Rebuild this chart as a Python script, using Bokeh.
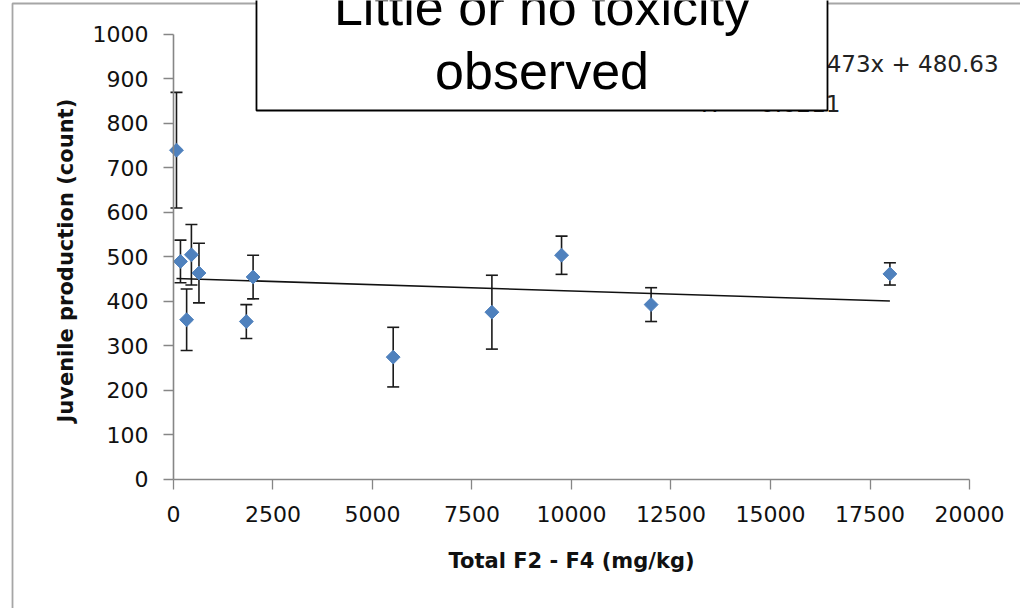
from bokeh.plotting import figure
from bokeh.models import (Range1d, FixedTicker, Whisker, ColumnDataSource,
                          BoxAnnotation, Label, TeeHead)
from bokeh.embed import file_html
from bokeh.resources import INLINE

# Total F2-F4 concentration (mg/kg) and juvenile counts (mean, +/- error)
conc = [75, 175, 330, 450, 640, 1830, 2000, 5520, 8000, 9750, 12000, 18000]
juveniles = [740, 490, 359, 505, 464, 355, 455, 275, 376, 504, 393, 462]
err = [130, 48, 69, 68, 67, 38, 49, 67, 83, 43, 38, 25]

x_ticks = [0, 2500, 5000, 7500, 10000, 12500, 15000, 17500, 20000]
y_ticks = [0, 100, 200, 300, 400, 500, 600, 700, 800, 900, 1000]

# linear trend drawn across the sampled concentration range
trend_slope = -0.00283
trend_intercept = 452.0
trend_x = [min(conc), max(conc)]
trend_y = [trend_intercept + trend_slope * v for v in trend_x]

eq_text = "y = -0.00473x + 480.63"
r2_text = "R\u00b2 = 0.0211"
note_lines = ["Little or no toxicity", "observed"]

src = ColumnDataSource(dict(
    x=conc, y=juveniles,
    lo=[a - b for a, b in zip(juveniles, err)],
    hi=[a + b for a, b in zip(juveniles, err)],
))

AXIS_GREY = "#868686"
TICK_FONT = "DejaVu Sans"

# The plotting frame fills the whole canvas; the axes are pinned at x=0 / y=0
# so the frame, note box and equation text can sit outside the axis box.
p = figure(width=1020, height=608, output_backend="svg", toolbar_location=None,
           x_range=Range1d(-4346.7, 21281.4), y_range=Range1d(-289.9, 1076.4),
           min_border=0, min_border_left=0, min_border_right=0,
           min_border_top=0, min_border_bottom=0)
p.title.visible = False
p.outline_line_color = None
p.grid.visible = False
p.background_fill_color = "white"
p.border_fill_color = "white"

for ax in (p.xaxis[0], p.yaxis[0]):
    ax.fixed_location = 0
    ax.axis_line_color = AXIS_GREY
    ax.axis_line_width = 1.6
    ax.major_tick_line_color = AXIS_GREY
    ax.major_tick_line_width = 1.3
    ax.major_tick_out = 10
    ax.major_tick_in = 0
    ax.minor_tick_line_color = None
    ax.major_label_text_font = TICK_FONT
    ax.major_label_text_font_size = "22px"
    ax.major_label_text_color = "#111111"
    ax.axis_label_text_font = TICK_FONT
    ax.axis_label_text_font_style = "bold"
    ax.axis_label_text_font_size = "21px"
    ax.axis_label_text_color = "#111111"

p.xaxis.bounds = (0, 20000)
p.yaxis.bounds = (0, 1000)
p.xaxis.ticker = FixedTicker(ticks=x_ticks)
p.yaxis.ticker = FixedTicker(ticks=y_ticks)
p.xaxis.major_label_standoff = 17
p.yaxis.major_label_standoff = 15
p.xaxis.axis_label = "Total F2 - F4 (mg/kg)"
p.yaxis.axis_label = "Juvenile production  (count)"
p.xaxis.axis_label_standoff = 23
p.yaxis.axis_label_standoff = 12

# error bars
wh = Whisker(source=src, base="x", lower="lo", upper="hi", dimension="height",
             line_color="#1a1a1a", line_width=1.6, level="underlay",
             lower_head=TeeHead(size=12, line_color="#1a1a1a", line_width=1.6),
             upper_head=TeeHead(size=12, line_color="#1a1a1a", line_width=1.6))
p.add_layout(wh)

# trend line
p.line(trend_x, trend_y, line_color="#111111", line_width=1.6)

# diamond markers
p.scatter("x", "y", source=src, marker="square", angle=0.785398, size=9.8,
          fill_color="#4F81BD", line_color="#4F81BD")

# chart-area frame (runs off the right and bottom edges)
p.add_layout(BoxAnnotation(left=-4045, right=22500, top=1069.7, bottom=-400,
                           fill_color=None, fill_alpha=0,
                           line_color="#A6A6A6", line_alpha=1.0, line_width=1.8))

# trendline equation, mostly hidden behind the note box
p.add_layout(Label(x=20729, y=932.6, text=eq_text, text_align="right",
                   text_baseline="alphabetic", text_font=TICK_FONT,
                   text_font_size="23px", text_color="#222222"))
p.add_layout(Label(x=16759, y=842.7, text=r2_text, text_align="right",
                   text_baseline="alphabetic", text_font=TICK_FONT,
                   text_font_size="23px", text_color="#222222"))

# note box
p.add_layout(BoxAnnotation(left=2085, right=16432, top=1121, bottom=829.2,
                           fill_color="white", fill_alpha=1.0,
                           line_color="black", line_alpha=1.0, line_width=1.8))
p.add_layout(Label(x=9259, y=1060.7, text=note_lines[0], text_align="center",
                   text_baseline="alphabetic", text_font="Liberation Sans",
                   text_font_size="52px", text_color="black"))
p.add_layout(Label(x=9259, y=916.9, text=note_lines[1], text_align="center",
                   text_baseline="alphabetic", text_font="Liberation Sans",
                   text_font_size="52px", text_color="black"))

open("out.html", "w").write(file_html(p, INLINE))
